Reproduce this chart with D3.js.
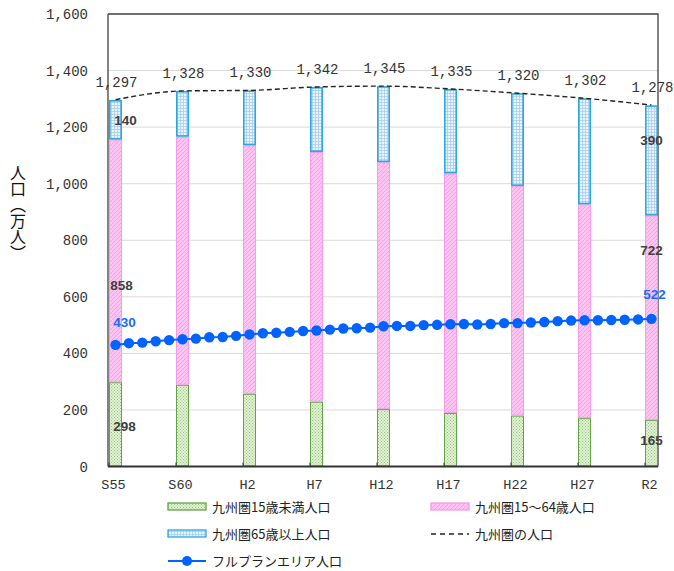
<!DOCTYPE html>
<html>
<head>
<meta charset="utf-8">
<script src="https://cdn.jsdelivr.net/npm/d3@7"></script>
<style>
  body { margin: 0; background: #fff; }
  svg { display: block; }
  .tick-label { font-family: "Liberation Mono", "DejaVu Sans Mono", monospace; font-size: 14px; fill: #333; }
  .cat-label { font-family: "Liberation Mono", "DejaVu Sans Mono", monospace; font-size: 13.5px; fill: #333; }
  .total-label { font-family: "Liberation Mono", "DejaVu Sans Mono", monospace; font-size: 14px; fill: #333; }
  .seg-label { font-family: "Liberation Sans", Arial, sans-serif; font-size: 13.5px; font-weight: bold; fill: #404040; }
  .fp-label { font-family: "Liberation Sans", Arial, sans-serif; font-size: 13.5px; font-weight: bold; fill: #1a6cff; }
  .legend-text { font-family: "Noto Sans CJK JP", sans-serif; font-size: 13px; fill: #222; }
  .ylab { font-family: "Noto Sans CJK JP", sans-serif; font-size: 16px; fill: #111; writing-mode: vertical-rl; text-orientation: upright; }
</style>
</head>
<body>
<svg id="chart" width="674" height="571"></svg>
<script>
// census years (bars)
const categories = ["S55", "S60", "H2", "H7", "H12", "H17", "H22", "H27", "R2"];
const censusYears = [1980, 1985, 1990, 1995, 2000, 2005, 2010, 2015, 2020];
const under15 = [298, 289, 257, 229, 203, 189, 180, 171, 165];
const age15to64 = [858, 877, 879, 883, 873, 847, 812, 756, 722];
const over65 = [140, 162, 194, 230, 269, 299, 328, 375, 390];
const totals = [1297, 1328, 1330, 1342, 1345, 1335, 1320, 1302, 1278];

// full plan area population, yearly 1980..2020
const fullplanYears = d3.range(1980, 2021);
const fullplan = [
  430, 436, 438, 443, 447, 450, 452, 457, 458, 462,
  467, 471, 473, 476, 479, 481, 484, 488, 489, 491,
  496, 497, 497, 500, 501, 503, 504, 502, 504, 507,
  507, 509, 511, 514, 516, 517, 517, 518, 519, 520,
  522
];

const yTicks = [0, 200, 400, 600, 800, 1000, 1200, 1400, 1600];

const margin = { left: 108, right: 658, top: 14, bottom: 466.5 };
const barWidth = 13;

const svg = d3.select("#chart");
const defs = svg.append("defs");

function addPattern(id, size, base, draw) {
  const p = defs.append("pattern")
    .attr("id", id)
    .attr("patternUnits", "userSpaceOnUse")
    .attr("width", size)
    .attr("height", size);
  p.append("rect").attr("width", size).attr("height", size).attr("fill", base);
  draw(p);
}

addPattern("pat-green", 3, "#e2f1d6", (p) => {
  p.append("rect").attr("x", 0).attr("y", 0).attr("width", 1).attr("height", 1).attr("fill", "#94c878");
  p.append("rect").attr("x", 1.5).attr("y", 1.5).attr("width", 1).attr("height", 1).attr("fill", "#94c878");
});
addPattern("pat-pink", 4, "#fdc4f3", (p) => {
  p.append("path").attr("d", "M0,4 L4,0 M-1,1 L1,-1 M3,5 L5,3")
    .attr("stroke", "#f5a2e9").attr("stroke-width", 1);
});
addPattern("pat-blue", 3, "#eaf4fc", (p) => {
  p.append("path").attr("d", "M0,0.5 H3 M0.5,0 V3")
    .attr("stroke", "#aacdee").attr("stroke-width", 0.8);
});

const x = d3.scaleLinear().domain([1980, 2020]).range([margin.left + 7.5, margin.right - 6.5]);
const y = d3.scaleLinear().domain([0, 1600]).range([margin.bottom, margin.top]);

// gridlines
svg.append("g")
  .selectAll("line")
  .data(yTicks.slice(1, -1))
  .join("line")
  .attr("x1", margin.left)
  .attr("x2", margin.right)
  .attr("y1", (d) => y(d))
  .attr("y2", (d) => y(d))
  .attr("stroke", "#d9d9d9")
  .attr("stroke-width", 1);

// plot frame
svg.append("path")
  .attr("d", `M${margin.left},${margin.top} H${margin.right} V${margin.bottom}`)
  .attr("fill", "none")
  .attr("stroke", "#404040")
  .attr("stroke-width", 1.3);
svg.append("line")
  .attr("x1", margin.left).attr("x2", margin.left)
  .attr("y1", margin.top).attr("y2", margin.bottom)
  .attr("stroke", "#404040").attr("stroke-width", 1.3);

// y tick labels
svg.append("g")
  .selectAll("text")
  .data(yTicks)
  .join("text")
  .attr("class", "tick-label")
  .attr("x", 88)
  .attr("y", (d) => y(d) + 5)
  .attr("text-anchor", "end")
  .text((d) => d3.format(",")(d));

// stacked bars
const stacks = [
  { key: "u15", values: under15, fill: "url(#pat-green)", stroke: "#62a447", sw: 1 },
  { key: "mid", values: age15to64, fill: "url(#pat-pink)", stroke: "#f59be8", sw: 1 },
  { key: "o65", values: over65, fill: "url(#pat-blue)", stroke: "#2aa9df", sw: 1.6 }
];
const gBars = svg.append("g");
censusYears.forEach((year, i) => {
  let base = 0;
  stacks.forEach((s) => {
    const v = s.values[i];
    const inset = s.sw / 2;
    gBars.append("rect")
      .attr("x", x(year) - barWidth / 2 + inset)
      .attr("y", y(base + v) + inset)
      .attr("width", barWidth - s.sw)
      .attr("height", Math.max(0, y(base) - y(base + v) - s.sw))
      .attr("fill", s.fill)
      .attr("stroke", s.stroke)
      .attr("stroke-width", s.sw);
    base += v;
  });
});

// x axis
svg.append("line")
  .attr("x1", margin.left).attr("x2", margin.right)
  .attr("y1", margin.bottom).attr("y2", margin.bottom)
  .attr("stroke", "#333").attr("stroke-width", 2);
svg.append("g")
  .selectAll("line")
  .data(censusYears)
  .join("line")
  .attr("x1", (d) => x(d) - barWidth / 2)
  .attr("x2", (d) => x(d) - barWidth / 2)
  .attr("y1", margin.bottom)
  .attr("y2", margin.bottom - 4)
  .attr("stroke", "#333");
svg.append("g")
  .selectAll("text")
  .data(censusYears)
  .join("text")
  .attr("class", "cat-label")
  .attr("x", (d) => x(d) - 2)
  .attr("y", 489)
  .attr("text-anchor", "middle")
  .text((d, i) => categories[i]);

// total dashed line
const totalLine = d3.line()
  .x((d, i) => x(censusYears[i]))
  .y((d) => y(d))
  .curve(d3.curveMonotoneX);
svg.append("path")
  .datum(totals)
  .attr("d", totalLine)
  .attr("fill", "none")
  .attr("stroke", "#222")
  .attr("stroke-width", 1.4)
  .attr("stroke-dasharray", "5,3");

// total labels
svg.append("g")
  .selectAll("text")
  .data(totals)
  .join("text")
  .attr("class", "total-label")
  .attr("x", (d, i) => x(censusYears[i]) + 1)
  .attr("y", (d) => y(d) - 13)
  .attr("text-anchor", "middle")
  .text((d) => d3.format(",")(d));

// full plan area line + dots
const fpLine = d3.line()
  .x((d, i) => x(fullplanYears[i]))
  .y((d) => y(d));
svg.append("path")
  .datum(fullplan)
  .attr("d", fpLine)
  .attr("fill", "none")
  .attr("stroke", "#0062ff")
  .attr("stroke-width", 2);
svg.append("g")
  .selectAll("circle")
  .data(fullplan)
  .join("circle")
  .attr("cx", (d, i) => x(fullplanYears[i]))
  .attr("cy", (d) => y(d))
  .attr("r", 5.2)
  .attr("fill", "#0062ff");

// segment value labels (first and last bar)
const last = censusYears.length - 1;
const segLabels = [
  { text: under15[0], xv: x(censusYears[0]) + 9, yv: y(under15[0]) + 49 },
  { text: age15to64[0], xv: x(censusYears[0]) + 6, yv: y(under15[0] + age15to64[0] * 0.4) + 5 },
  { text: over65[0], xv: x(censusYears[0]) + 10, yv: y(under15[0] + age15to64[0] + over65[0] * 0.5) + 5 },
  { text: under15[last], xv: x(censusYears[last]), yv: y(under15[last] * 0.1) - 17 },
  { text: age15to64[last], xv: x(censusYears[last]), yv: y(under15[last] + age15to64[last] * 0.83) + 5 },
  { text: over65[last], xv: x(censusYears[last]), yv: y(under15[last] + age15to64[last] + over65[last] * 0.69) + 5 }
];
svg.append("g")
  .selectAll("text")
  .data(segLabels)
  .join("text")
  .attr("class", "seg-label")
  .attr("x", (d) => d.xv)
  .attr("y", (d) => d.yv)
  .attr("text-anchor", "middle")
  .text((d) => d.text);

svg.append("text").attr("class", "fp-label")
  .attr("x", x(1980) + 9).attr("y", y(fullplan[0]) - 18)
  .attr("text-anchor", "middle").text(fullplan[0]);
svg.append("text").attr("class", "fp-label")
  .attr("x", x(2020) + 3).attr("y", y(fullplan[fullplan.length - 1]) - 20)
  .attr("text-anchor", "middle").text(fullplan[fullplan.length - 1]);

// y axis title
svg.append("text")
  .attr("class", "ylab")
  .attr("x", 18)
  .attr("y", 165)
  .text("人口︵万人︶");

// legend
const legendItems = [
  { label: "九州圏15歳未満人口", type: "bar", fill: "url(#pat-green)", stroke: "#62a447", col: 0, row: 0 },
  { label: "九州圏15～64歳人口", type: "bar", fill: "url(#pat-pink)", stroke: "#f59be8", col: 1, row: 0 },
  { label: "九州圏65歳以上人口", type: "bar", fill: "url(#pat-blue)", stroke: "#2aa9df", col: 0, row: 1 },
  { label: "九州圏の人口", type: "dash", col: 1, row: 1 },
  { label: "フルプランエリア人口", type: "dot", col: 0, row: 2 }
];
const colX = [168, 431];
const rowY = [507, 534, 561];
const gLegend = svg.append("g");
legendItems.forEach((item) => {
  const lx = colX[item.col];
  const ly = rowY[item.row];
  const g = gLegend.append("g");
  if (item.type === "bar") {
    g.append("rect")
      .attr("x", lx).attr("y", ly - 4).attr("width", 38).attr("height", 7)
      .attr("fill", item.fill).attr("stroke", item.stroke).attr("stroke-width", 1.3);
  } else if (item.type === "dash") {
    g.append("line")
      .attr("x1", lx).attr("x2", lx + 38).attr("y1", ly).attr("y2", ly)
      .attr("stroke", "#222").attr("stroke-width", 1.3).attr("stroke-dasharray", "5,4");
  } else {
    g.append("line")
      .attr("x1", lx).attr("x2", lx + 38).attr("y1", ly).attr("y2", ly)
      .attr("stroke", "#0062ff").attr("stroke-width", 2);
    g.append("circle").attr("cx", lx + 19).attr("cy", ly).attr("r", 5).attr("fill", "#0062ff");
  }
  g.append("text")
    .attr("class", "legend-text")
    .attr("x", lx + 44)
    .attr("y", ly + 5)
    .text(item.label);
});
</script>
</body>
</html>
